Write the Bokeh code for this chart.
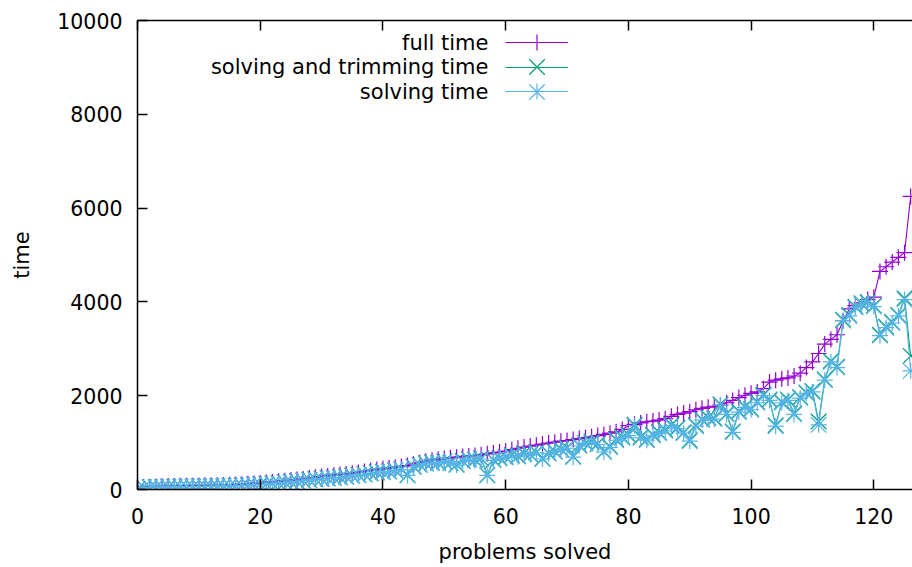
from bokeh.plotting import figure
from bokeh.models import Range1d, LinearAxis, Legend, LegendItem, Label, FixedTicker, CustomJSTickFormatter
from bokeh.embed import file_html
from bokeh.resources import INLINE

problems = list(range(127))

full_time = [
    20, 55, 60, 65, 70, 72, 75, 78, 80, 82,
    85, 88, 90, 92, 95, 100, 105, 112, 120, 130,
    140, 150, 162, 175, 188, 200, 212, 225, 245, 260,
    275, 290, 305, 318, 330, 345, 365, 385, 405, 425,
    445, 460, 475, 490, 510, 540, 570, 600, 625, 645,
    660, 675, 690, 705, 715, 725, 740, 760, 780, 800,
    820, 850, 880, 905, 925, 945, 970, 990, 1010, 1030,
    1045, 1065, 1085, 1105, 1125, 1150, 1175, 1200, 1230, 1280,
    1360, 1390, 1420, 1445, 1460, 1480, 1510, 1560, 1600, 1630,
    1660, 1700, 1730, 1755, 1775, 1800, 1850, 1900, 1960, 2010,
    2050, 2080, 2150, 2290, 2330, 2360, 2380, 2420, 2480, 2600,
    2720, 2900, 3100, 3200, 3300, 3600, 3850, 3920, 3980, 4050,
    4100, 4650, 4750, 4850, 4950, 5050, 6250,
]

solving_trimming_time = [
    12, 48, 50, 53, 55, 58, 58, 60, 63, 63,
    65, 68, 70, 73, 75, 78, 83, 88, 95, 104,
    112, 120, 130, 140, 152, 165, 175, 190, 205, 220,
    230, 240, 250, 262, 278, 296, 312, 328, 348, 368,
    378, 390, 410, 430, 310, 490, 530, 560, 580, 570,
    600, 575, 535, 610, 650, 635, 665, 310, 635, 675,
    695, 735, 715, 775, 755, 795, 665, 775, 815, 865,
    895, 705, 945, 995, 1020, 980, 815, 920, 1070, 1120,
    1170, 1380, 1120, 1070, 1170, 1220, 1270, 1380, 1320, 1220,
    1050, 1370, 1500, 1540, 1520, 1820, 1620, 1240, 1670, 1770,
    1720, 1870, 2020, 1920, 1370, 1870, 1920, 1620, 1970, 2070,
    2100, 1450, 2350, 2740, 2620, 3620, 3720, 3900, 3970, 4000,
    3920, 3300, 3470, 3570, 3720, 4080, 2850,
]

solving_time = [
    10, 45, 48, 50, 52, 55, 55, 58, 60, 60,
    62, 65, 68, 70, 72, 75, 80, 85, 92, 100,
    108, 115, 125, 135, 148, 160, 170, 185, 200, 215,
    225, 235, 245, 255, 270, 290, 305, 320, 340, 360,
    370, 380, 400, 420, 300, 480, 520, 550, 570, 560,
    590, 560, 520, 600, 640, 620, 650, 300, 620, 660,
    680, 720, 700, 760, 740, 780, 650, 760, 800, 850,
    880, 690, 930, 980, 1000, 960, 800, 900, 1050, 1100,
    1150, 1360, 1100, 1050, 1150, 1200, 1250, 1360, 1300, 1200,
    1030, 1350, 1480, 1520, 1500, 1800, 1600, 1220, 1650, 1750,
    1700, 1850, 2000, 1900, 1350, 1850, 1900, 1600, 1950, 2050,
    2080, 1380, 2330, 2720, 2600, 3600, 3700, 3880, 3950, 3980,
    3900, 3280, 3450, 3550, 3700, 4050, 2530,
]

series_labels = ["full time", "solving and trimming time", "solving time"]
series_colors = ["#9400d3", "#009e73", "#56b4e9"]
x_ticks = [0, 20, 40, 60, 80, 100, 120]
y_ticks = [0, 2000, 4000, 6000, 8000, 10000]
x_label = "problems solved"
y_label = "time"

FONT = "DejaVu Sans"
FS = "21px"
TICK_FS = "20.5px"

p = figure(width=912, height=567, output_backend="svg", toolbar_location=None,
           x_range=Range1d(0, 126.3), y_range=Range1d(0, 10000),
           min_border_left=137, min_border_right=0, min_border_top=20, min_border_bottom=78,
           x_axis_label=x_label, y_axis_label=y_label)
p.outline_line_color = None
p.grid.visible = False
p.background_fill_color = "white"
p.border_fill_color = "white"

for ax in (p.xaxis[0], p.yaxis[0]):
    ax.major_tick_in = 10
    ax.major_tick_out = 0
    ax.minor_tick_in = 0
    ax.minor_tick_out = 0
    ax.axis_line_width = 1.5
    ax.major_tick_line_width = 1.5
    ax.axis_line_color = "black"
    ax.major_tick_line_color = "black"
    ax.major_label_text_font = FONT
    ax.major_label_text_font_size = TICK_FS
    ax.major_label_text_color = "black"
    ax.axis_label_text_font = FONT
    ax.axis_label_text_font_size = FS
    ax.axis_label_text_font_style = "normal"
    ax.axis_label_text_color = "black"

p.xaxis[0].ticker = FixedTicker(ticks=x_ticks)
p.yaxis[0].ticker = FixedTicker(ticks=y_ticks)
p.xaxis[0].major_label_standoff = 18
p.xaxis[0].axis_label_standoff = 13
p.yaxis[0].major_label_standoff = 15
p.yaxis[0].axis_label_standoff = 20

top_axis = LinearAxis(ticker=FixedTicker(ticks=x_ticks),
                      formatter=CustomJSTickFormatter(code="return ''"))
top_axis.major_tick_in = 10
top_axis.major_tick_out = 0
top_axis.minor_tick_in = 0
top_axis.minor_tick_out = 0
top_axis.major_label_standoff = 0
top_axis.major_label_text_font_size = "1px"
top_axis.axis_line_width = 1.5
top_axis.major_tick_line_width = 1.5
p.add_layout(top_axis, "above")

CROSS_SIZE = 16
X_SIZE = 22

series = [full_time, solving_trimming_time, solving_time]
legend_groups = []  # per row: list of (renderers, glyph_height)
for i, ys in enumerate(series):
    c = series_colors[i]
    rl = p.line(problems, ys, line_color=c, line_width=1.1)
    groups = []
    if i == 0:
        rc = p.scatter(problems, ys, marker="cross", size=CROSS_SIZE, line_color=c, line_width=1.2)
        groups.append(([rl, rc], CROSS_SIZE / 0.4))
    elif i == 1:
        rx = p.scatter(problems, ys, marker="x", size=X_SIZE, line_color=c, line_width=1.2)
        groups.append(([rl], 40))
        groups.append(([rx], X_SIZE / 0.4))
    else:
        rc = p.scatter(problems, ys, marker="cross", size=CROSS_SIZE, line_color=c, line_width=1.2)
        rx = p.scatter(problems, ys, marker="x", size=X_SIZE, line_color=c, line_width=1.2)
        groups.append(([rl, rc], CROSS_SIZE / 0.4))
        groups.append(([rx], X_SIZE / 0.4))
    legend_groups.append(groups)

row_centers = [447, 422.5, 398]  # frame px from bottom
for i, lbl in enumerate(series_labels):
    for rends, gh in legend_groups[i]:
        leg = Legend(items=[LegendItem(label=" ", renderers=rends)],
                     location=(368, row_centers[i] - gh / 2),
                     glyph_width=63, glyph_height=int(round(gh)), padding=0, margin=0, spacing=0,
                     label_standoff=0, label_text_font_size="2px",
                     border_line_color=None, background_fill_alpha=0)
        p.add_layout(leg)
    p.add_layout(Label(x=351, y=row_centers[i], x_units="screen", y_units="screen",
                       text=lbl, text_align="right", text_baseline="middle",
                       text_font=FONT, text_font_size=FS, text_color="black"))

open("out.html", "w").write(file_html(p, INLINE))
